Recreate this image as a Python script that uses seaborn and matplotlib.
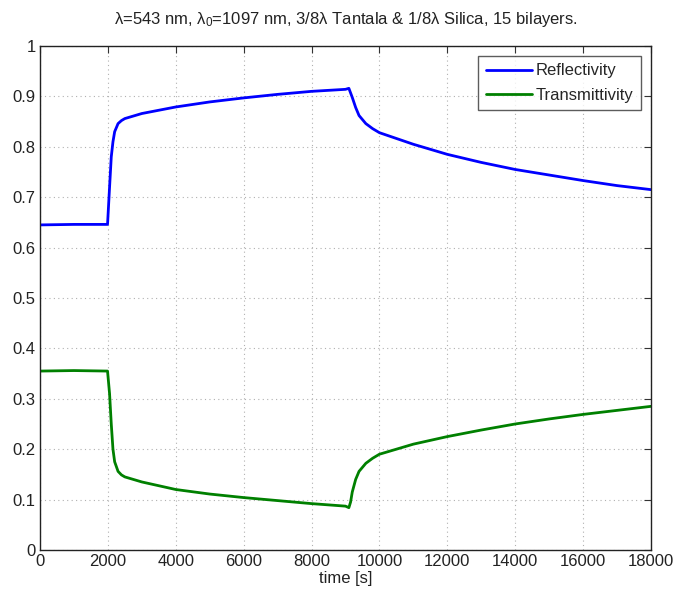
#!/usr/bin/env python3
# -*- coding: utf-8 -*-

import pandas as pd
import matplotlib
matplotlib.use("Agg")
import matplotlib.pyplot as plt
import seaborn as sns

# -----------------------------------------------------------------------------
# Data (time in s)
# -----------------------------------------------------------------------------
refl_time = [0, 1000, 1990, 2050, 2100, 2150, 2200, 2300, 2400, 2500, 3000, 4000,
             5000, 6000, 7000, 8000, 9000, 9100, 9200, 9300, 9400, 9600, 9800,
             10000, 11000, 12000, 13000, 14000, 15000, 16000, 17000, 18000]
refl_vals = [0.645, 0.646, 0.646, 0.72, 0.78, 0.81, 0.83, 0.846, 0.852, 0.856, 0.866, 0.879,
             0.889, 0.897, 0.904, 0.910, 0.914, 0.916, 0.898, 0.878, 0.862, 0.846, 0.836,
             0.828, 0.805, 0.785, 0.769, 0.755, 0.744, 0.733, 0.723, 0.715]

trans_time = [0, 1000, 1990, 2050, 2100, 2150, 2200, 2300, 2400, 2500, 3000, 4000,
              5000, 6000, 7000, 8000, 9000, 9100, 9150, 9200, 9300, 9400, 9600, 9800,
              10000, 11000, 12000, 13000, 14000, 15000, 16000, 17000, 18000]
trans_vals = [0.355, 0.356, 0.355, 0.31, 0.25, 0.20, 0.175, 0.156, 0.149, 0.145, 0.135, 0.120,
              0.111, 0.104, 0.098, 0.092, 0.087, 0.084, 0.095, 0.115, 0.140, 0.156, 0.172, 0.182,
              0.190, 0.210, 0.225, 0.238, 0.250, 0.260, 0.269, 0.277, 0.285]

series_names = ["Reflectivity", "Transmittivity"]
series_colors = ["#0000FF", "#008000"]

title_text = r"$\lambda$=543 nm, $\lambda_0$=1097 nm, 3/8$\lambda$ Tantala & 1/8$\lambda$ Silica, 15 bilayers."

sns.set_style("white")
plt.rcParams["font.family"] = ["Liberation Sans", "DejaVu Sans"]
plt.rcParams["mathtext.fontset"] = "custom"
plt.rcParams["mathtext.rm"] = "Liberation Sans"
plt.rcParams["mathtext.it"] = "Liberation Sans"


def main():
    df = pd.concat([
        pd.DataFrame({"time": refl_time, "value": refl_vals, "series": series_names[0]}),
        pd.DataFrame({"time": trans_time, "value": trans_vals, "series": series_names[1]}),
    ], ignore_index=True)

    fig = plt.figure(figsize=(6.8, 6.02), dpi=100)
    ax = fig.add_axes([0.0588, 0.0864, 0.8985, 0.8372])

    sns.lineplot(data=df, x="time", y="value", hue="series",
                 palette=dict(zip(series_names, series_colors)),
                 linewidth=2.0, ax=ax, sort=False, estimator=None)

    ax.set_xlim(0, 18000)
    ax.set_ylim(0, 1)
    ax.set_xticks(range(0, 18001, 2000))
    ax.set_yticks([i / 10 for i in range(11)])
    ax.set_yticklabels(["0", "0.1", "0.2", "0.3", "0.4", "0.5", "0.6", "0.7", "0.8", "0.9", "1"])
    ax.tick_params(direction="in", top=True, right=True, labelsize=12, length=5,
                   color="#333333", labelcolor="#222222", pad=3)
    ax.grid(True, linestyle=(0, (1, 3)), color="#b0b0b0", linewidth=0.8)
    for s in ax.spines.values():
        s.set_color("#222222")
        s.set_linewidth(1.0)

    ax.set_xlabel("time [s]", fontsize=12, color="#222222", labelpad=1)
    ax.set_ylabel("")
    ax.set_title(title_text, fontsize=12, color="#222222", pad=16)

    leg = ax.legend(loc="upper right", fontsize=12, frameon=True, fancybox=False,
                    handlelength=2.8, handletextpad=0.2, borderpad=0.45,
                    labelspacing=0.55, borderaxespad=0.6)
    leg.get_frame().set_edgecolor("#333333")
    leg.get_frame().set_linewidth(1.0)
    leg.set_title(None)

    fig.savefig("out.png", dpi=100)
    plt.close(fig)


if __name__ == "__main__":
    main()
